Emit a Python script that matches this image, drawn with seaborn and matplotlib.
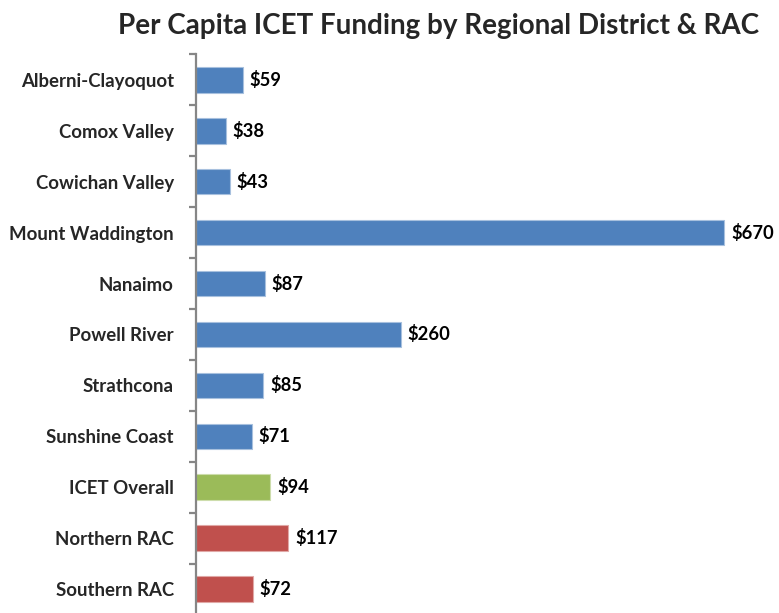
import matplotlib
matplotlib.use("Agg")
import matplotlib.pyplot as plt
import seaborn as sns
import numpy as np

categories = ["Alberni-Clayoquot", "Comox Valley", "Cowichan Valley", "Mount Waddington",
              "Nanaimo", "Powell River", "Strathcona", "Sunshine Coast",
              "ICET Overall", "Northern RAC", "Southern RAC"]
values = [59, 38, 43, 670, 87, 260, 85, 71, 94, 117, 72]
bar_colors = ["#4F81BD"] * 8 + ["#9BBB59", "#C0504D", "#C0504D"]
edge_colors = ["#A7C0DE"] * 8 + ["#CDDDAC", "#E0A8A6", "#E0A8A6"]
title = "Per Capita ICET Funding by Regional District & RAC"

sns.set_style("white")
plt.rcParams['font.family'] = ['Lato', 'DejaVu Sans']

fig = plt.figure(figsize=(7.79, 6.13), dpi=100)
ax = fig.add_axes([196 / 779, -1.5 / 613, 1 - 196 / 779, (614.5 - 54.5) / 613])

sns.barplot(x=values, y=categories, hue=categories, palette=bar_colors,
            legend=False, width=0.5, orient="h", ax=ax, saturation=1)

for p, ec in zip(ax.patches, edge_colors):
    p.set_edgecolor(ec)
    p.set_linewidth(0.8)

for c in ax.containers:
    ax.bar_label(c, labels=[f"${v:.0f}" for v in c.datavalues], padding=5,
                 fontsize=13.2, fontweight="bold", color="black")

ax.set_xlim(0, (779 - 197) / 0.787)
ax.set_ylim(10.5, -0.5)
ax.set_xlabel("")
ax.set_ylabel("")
ax.set_xticks([])
for s in ["top", "right", "bottom"]:
    ax.spines[s].set_visible(False)
ax.spines["left"].set_color("#868686")
ax.spines["left"].set_linewidth(1.6)

ax.set_yticks(np.arange(len(categories)))
ax.set_yticklabels(categories, fontsize=13.4, fontweight="bold")
ax.tick_params(axis="y", which="major", left=False, length=0, pad=16)
ax.set_yticks(np.arange(-0.5, len(categories), 1), minor=True)
ax.tick_params(axis="y", which="minor", left=True, length=5, width=1.6,
               color="#868686", direction="out")

fig.text(0.5635, 0.978, title, ha="center", va="top", fontsize=20, fontweight="bold")

fig.savefig("out.png", dpi=100)
